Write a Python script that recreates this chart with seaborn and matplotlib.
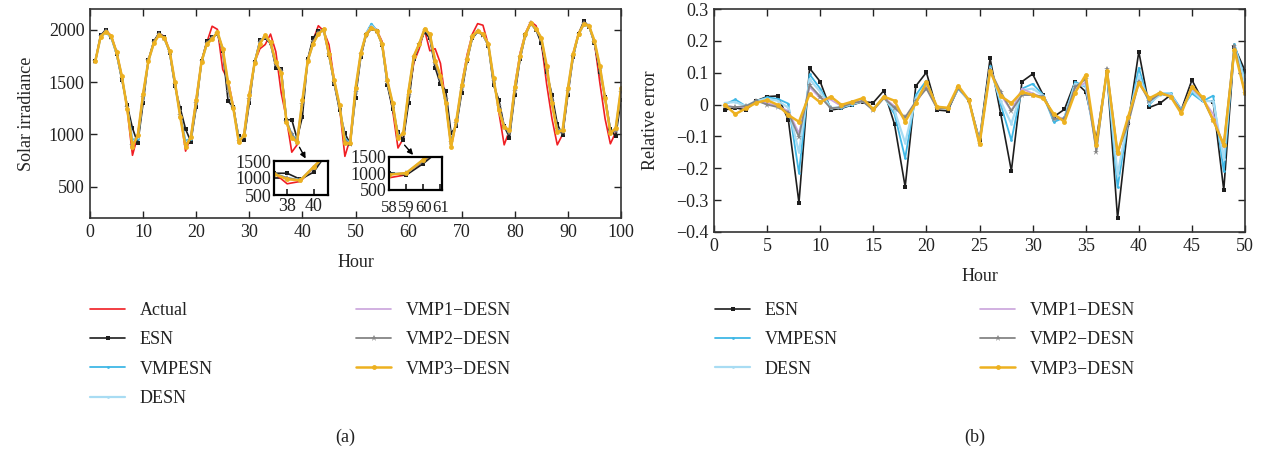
import pandas as pd
import seaborn as sns
import matplotlib.pyplot as plt
from matplotlib.ticker import FuncFormatter

# ---- data ----
hours = list(range(1, 101))
err_hours = list(range(1, 51))
models = ["Actual", "ESN", "VMPESN", "DESN", "VMP1\u2212DESN", "VMP2\u2212DESN", "VMP3\u2212DESN"]

actual = [1700, 1935, 1995, 1945, 1790, 1560, 1240, 800, 990, 1390,
          1700, 1880, 1960, 1940, 1800, 1500, 1190, 840, 980, 1340,
          1700, 1880, 2035, 2005, 1620, 1520, 1270, 930, 1000, 1390,
          1690, 1820, 1860, 1960, 1790, 1400, 1150, 830, 900, 1300,
          1690, 1900, 2040, 1990, 1860, 1520, 1260, 790, 960, 1420,
          1760, 1960, 2040, 2000, 1890, 1530, 1230, 870, 960, 1380,
          1690, 1820, 2000, 1800, 1820, 1680, 1300, 880, 1120, 1480,
          1760, 1960, 2060, 2045, 1860, 1540, 1210, 900, 1040, 1470,
          1780, 1970, 2080, 2040, 1880, 1480, 1150, 900, 1000, 1410,
          1780, 1970, 2060, 2040, 1880, 1500, 1150, 910, 1020, 1420]
esn = [1700, 1950, 2000, 1930, 1770, 1520, 1280, 1060, 915, 1300,
       1710, 1890, 1970, 1930, 1780, 1460, 1250, 1050, 930, 1260,
       1700, 1890, 1930, 1960, 1800, 1320, 1260, 980, 950, 1300,
       1690, 1900, 1920, 1870, 1640, 1630, 1140, 1140, 960, 1170,
       1720, 1920, 1990, 2000, 1760, 1480, 1230, 1010, 910, 1350,
       1740, 1950, 2010, 1990, 1860, 1470, 1240, 1020, 950, 1300,
       1720, 1860, 1980, 1920, 1640, 1480, 1420, 1010, 1080, 1400,
       1700, 1920, 1980, 1950, 1850, 1470, 1330, 1080, 970, 1380,
       1720, 1950, 2060, 2000, 1870, 1600, 1380, 1100, 990, 1380,
       1740, 1960, 2085, 2030, 1870, 1600, 1360, 1050, 980, 1330]
vmpesn = [1700, 1930, 1975, 1925, 1770, 1540, 1260, 950, 960, 1370,
          1700, 1875, 1955, 1915, 1790, 1480, 1180, 940, 960, 1310,
          1690, 1860, 1920, 1975, 1810, 1470, 1250, 960, 980, 1360,
          1680, 1890, 1940, 1870, 1680, 1600, 1130, 1000, 945, 1310,
          1700, 1870, 1970, 2000, 1760, 1500, 1270, 960, 920, 1420,
          1770, 1970, 2060, 1995, 1860, 1500, 1290, 990, 1000, 1410,
          1745, 1860, 2005, 1950, 1690, 1550, 1300, 930, 1120, 1460,
          1720, 1935, 1980, 1955, 1860, 1520, 1240, 1080, 1030, 1440,
          1750, 1955, 2060, 2005, 1915, 1640, 1290, 1050, 1030, 1430,
          1765, 1955, 2050, 2030, 1885, 1640, 1340, 1030, 1050, 1430]
desn = [1700, 1935, 1980, 1935, 1780, 1550, 1255, 920, 975, 1380,
        1702, 1872, 1953, 1918, 1795, 1490, 1172, 910, 968, 1318,
        1693, 1864, 1915, 1978, 1815, 1485, 1250, 945, 987, 1366,
        1684, 1880, 1945, 1875, 1685, 1595, 1125, 985, 940, 1318,
        1703, 1868, 1965, 2003, 1765, 1508, 1274, 940, 918, 1430,
        1775, 1965, 2040, 1992, 1863, 1508, 1293, 978, 1006, 1415,
        1749, 1863, 2007, 1955, 1698, 1556, 1298, 905, 1128, 1464,
        1722, 1939, 1985, 1957, 1863, 1527, 1235, 1075, 1035, 1445,
        1751, 1957, 2063, 2007, 1920, 1649, 1293, 1036, 1035, 1435,
        1767, 1957, 2053, 2034, 1890, 1649, 1342, 1021, 1055, 1435]
vmp1 = [1700, 1938, 1986, 1938, 1782, 1552, 1250, 895, 985, 1385,
        1704, 1872, 1954, 1920, 1798, 1494, 1168, 890, 972, 1322,
        1694, 1866, 1912, 1980, 1817, 1492, 1250, 935, 990, 1370,
        1686, 1872, 1948, 1878, 1688, 1592, 1122, 975, 935, 1322,
        1704, 1868, 1962, 2004, 1768, 1512, 1276, 928, 916, 1435,
        1778, 1962, 2030, 1991, 1865, 1512, 1295, 972, 1009, 1418,
        1751, 1865, 2008, 1958, 1702, 1560, 1297, 893, 1132, 1466,
        1723, 1941, 1988, 1959, 1865, 1531, 1232, 1072, 1037, 1448,
        1752, 1958, 2065, 2008, 1922, 1654, 1295, 1029, 1037, 1438,
        1768, 1958, 2055, 2036, 1893, 1654, 1343, 1016, 1058, 1438]
vmp2 = [1700, 1945, 1990, 1935, 1790, 1540, 1265, 900, 980, 1360,
        1712, 1880, 1960, 1925, 1790, 1480, 1190, 900, 965, 1300,
        1700, 1875, 1920, 1970, 1815, 1420, 1260, 935, 980, 1340,
        1690, 1880, 1930, 1875, 1670, 1610, 1130, 1000, 930, 1290,
        1710, 1880, 1975, 2003, 1765, 1500, 1260, 940, 912, 1410,
        1765, 1955, 2015, 1990, 1862, 1500, 1280, 980, 1000, 1380,
        1740, 1863, 2000, 1950, 1680, 1530, 1340, 930, 1110, 1440,
        1715, 1935, 1985, 1955, 1860, 1510, 1270, 1075, 1010, 1420,
        1740, 1955, 2065, 2005, 1910, 1630, 1320, 1050, 1020, 1420,
        1755, 1960, 2065, 2035, 1885, 1630, 1350, 1030, 1030, 1410]
vmp3 = [1700, 1936, 1984, 1940, 1785, 1557, 1247, 882, 993, 1389,
        1705, 1870, 1952, 1921, 1800, 1497, 1164, 880, 975, 1326,
        1696, 1867, 1910, 1981, 1819, 1497, 1250, 927, 993, 1373,
        1687, 1867, 1950, 1880, 1690, 1590, 1120, 965, 930, 1326,
        1705, 1867, 1960, 2006, 1770, 1516, 1278, 915, 915, 1440,
        1780, 1960, 2020, 1990, 1867, 1516, 1297, 965, 1012, 1420,
        1753, 1867, 2010, 1960, 1705, 1563, 1297, 880, 1135, 1468,
        1724, 1943, 1990, 1960, 1867, 1535, 1230, 1070, 1040, 1450,
        1753, 1960, 2067, 2010, 1924, 1658, 1297, 1022, 1040, 1440,
        1770, 1960, 2057, 2038, 1896, 1658, 1345, 1012, 1060, 1440]

esn_err = [-0.017, -0.010, -0.017, 0.012, 0.025, 0.027, -0.048, -0.308, 0.114, 0.072,
           -0.017, -0.012, -0.001, 0.009, 0.006, 0.044, -0.062, -0.258, 0.058, 0.101,
           -0.017, -0.020, 0.051, 0.014, -0.111, 0.145, -0.030, -0.208, 0.072, 0.096,
           0.030, -0.038, -0.015, 0.072, 0.040, -0.110, 0.103, -0.357, -0.059, 0.166,
           -0.009, 0.004, 0.030, -0.017, 0.077, 0.014, 0.009, -0.268, 0.182, 0.106]
vmpesn_err = [0.000, 0.016, -0.005, 0.010, 0.023, 0.018, 0.003, -0.215, 0.095, 0.050,
              -0.010, -0.010, 0.000, 0.012, -0.015, 0.025, -0.030, -0.168, 0.030, 0.075,
              -0.010, -0.012, 0.050, 0.012, -0.120, 0.120, 0.000, -0.112, 0.050, 0.065,
              0.030, -0.055, -0.040, 0.072, 0.055, -0.130, 0.100, -0.260, -0.050, 0.115,
              0.000, 0.035, 0.035, -0.015, 0.035, 0.010, 0.028, -0.210, 0.190, 0.080]
desn_err = [0.005, 0.008, -0.005, 0.012, 0.018, 0.012, -0.010, -0.150, 0.080, 0.040,
            -0.012, -0.008, 0.002, 0.010, -0.012, 0.022, -0.020, -0.120, 0.020, 0.060,
            -0.010, -0.012, 0.052, 0.012, -0.120, 0.115, 0.010, -0.060, 0.045, 0.050,
            0.028, -0.045, -0.045, 0.065, 0.060, -0.135, 0.105, -0.220, -0.045, 0.090,
            0.005, 0.030, 0.032, -0.020, 0.045, 0.012, 0.010, -0.170, 0.185, 0.070]
vmp1_err = [-0.003, -0.008, -0.008, 0.010, 0.005, -0.005, -0.020, -0.090, 0.055, 0.020,
            0.015, -0.005, 0.005, 0.012, -0.015, 0.022, -0.005, -0.050, 0.005, 0.055,
            -0.010, -0.010, 0.055, 0.012, -0.122, 0.112, 0.030, -0.020, 0.050, 0.035,
            0.022, -0.035, -0.045, 0.050, 0.070, -0.140, 0.108, -0.160, -0.040, 0.075,
            0.012, 0.035, 0.028, -0.020, 0.050, 0.020, -0.030, -0.135, 0.180, 0.035]
vmp2_err = [-0.005, -0.008, -0.005, 0.012, 0.000, -0.008, -0.025, -0.102, 0.062, 0.025,
            -0.012, -0.008, 0.005, 0.010, -0.018, 0.020, -0.010, -0.040, 0.010, 0.050,
            -0.012, -0.012, 0.052, 0.015, -0.125, 0.108, 0.040, -0.020, 0.030, 0.030,
            0.025, -0.045, -0.045, 0.055, 0.080, -0.148, 0.112, -0.150, -0.060, 0.070,
            0.010, 0.035, 0.025, -0.020, 0.055, 0.020, -0.050, -0.125, 0.185, 0.035]
vmp3_err = [0.000, -0.030, -0.012, 0.006, 0.014, -0.001, -0.033, -0.054, 0.033, 0.007,
            0.025, -0.001, 0.009, 0.020, -0.015, 0.025, 0.012, -0.054, 0.004, 0.070,
            -0.007, -0.010, 0.059, 0.014, -0.125, 0.106, 0.027, 0.004, 0.040, 0.030,
            0.020, -0.030, -0.054, 0.037, 0.093, -0.127, 0.106, -0.153, -0.038, 0.067,
            0.020, 0.037, 0.025, -0.028, 0.056, 0.023, -0.048, -0.127, 0.171, 0.035]

# long tables for seaborn
pred = pd.concat([pd.DataFrame({"hour": hours, "value": v, "model": m})
                  for m, v in zip(models, [actual, esn, vmpesn, desn, vmp1, vmp2, vmp3])])
err = pd.concat([pd.DataFrame({"hour": err_hours, "value": v, "model": m})
                 for m, v in zip(models[1:], [esn_err, vmpesn_err, desn_err, vmp1_err, vmp2_err, vmp3_err])])

# colour, marker, marker size, line width
styles = {
    "Actual": ("#f01e23", None, 0, 1.2),
    "ESN": ("#1e1e1e", "s", 3, 1.2),
    "VMPESN": ("#3fb8e6", "o", 2, 1.3),
    "DESN": ("#a8dcf3", "o", 2, 1.6),
    "VMP1\u2212DESN": ("#c9a3dc", None, 0, 1.2),
    "VMP2\u2212DESN": ("#858585", "*", 5, 1.3),
    "VMP3\u2212DESN": ("#edb120", "o", 3.5, 1.8),
}

sns.set_theme(style="ticks")
plt.rcParams["font.family"] = ["Liberation Serif", "DejaVu Serif"]
plt.rcParams["font.size"] = 13
plt.rcParams["axes.unicode_minus"] = True


def draw(ax, data):
    handles = []
    for m in data["model"].unique():
        c, mk, ms, lw = styles[m]
        sns.lineplot(data=data[data["model"] == m], x="hour", y="value", ax=ax,
                     color=c, marker=mk, markersize=ms, markeredgewidth=0,
                     linewidth=lw, estimator=None, label=m, legend=False)
        handles.append(ax.lines[-1])
    return handles


def style_axes(ax, size=13):
    ax.tick_params(direction="in", top=True, right=True, length=5, width=1,
                   labelsize=size, colors="#222222", pad=4)
    for s in ax.spines.values():
        s.set_linewidth(1.2)
        s.set_color("#333333")


W, H = 1265, 454
fig = plt.figure(figsize=(W / 100, H / 100), dpi=100)

# ---- (a) ----
ax1 = fig.add_axes([90 / W, 1 - 218 / H, 531 / W, 209 / H])
h1 = draw(ax1, pred)
ax1.set_xlim(0, 100)
ax1.set_ylim(200, 2200)
ax1.set_xticks(range(0, 101, 10))
ax1.set_yticks([500, 1000, 1500, 2000])
ax1.set_xlabel("Hour", fontsize=13, labelpad=10)
ax1.set_ylabel("Solar irradiance", fontsize=13, labelpad=10)
style_axes(ax1)

# insets
for (x0, y0, w, h), (lo, hi), ticks, tail, head_x, xsize, xpad in [
    ((274, 195, 54, 34), (37, 41.1), [38, 40], (39.2, 900), 0.61, 13, 2),
    ((389, 190, 53, 33), (58, 61.1), [58, 59, 60, 61], (58.9, 917), 0.49, 12, 7),
]:
    ins = fig.add_axes([x0 / W, 1 - y0 / H, w / W, h / H])
    draw(ins, pred[(pred["hour"] >= lo - 1) & (pred["hour"] <= hi + 1)])
    ins.set_xlim(lo, hi)
    ins.set_ylim(500, 1500)
    ins.set_xticks(ticks)
    ins.set_yticks([500, 1000, 1500])
    ins.set_xlabel("")
    ins.set_ylabel("")
    ins.tick_params(direction="in", length=4, labelsize=13, pad=2, colors="#222222")
    ins.tick_params(axis="x", labelsize=xsize, pad=xpad)
    for s in ins.spines.values():
        s.set_linewidth(1.6)
        s.set_color("black")
    ax1.annotate("", xy=(head_x, 1.0), xycoords=ins.transAxes,
                 xytext=tail, textcoords="data",
                 arrowprops=dict(arrowstyle="-|>", color="black", lw=1, mutation_scale=8))

# ---- (b) ----
ax2 = fig.add_axes([714 / W, 1 - 232 / H, 531 / W, 223 / H])
h2 = draw(ax2, err)
ax2.set_xlim(0, 50)
ax2.set_ylim(-0.4, 0.3)
ax2.set_xticks(range(0, 51, 5))
ax2.set_yticks([-0.4, -0.3, -0.2, -0.1, 0, 0.1, 0.2, 0.3])
ax2.yaxis.set_major_formatter(FuncFormatter(
    lambda v, p: "0" if abs(v) < 1e-9 else f"{v:.1f}".replace("-", "\u2212")))
ax2.set_xlabel("Hour", fontsize=13, labelpad=10)
ax2.set_ylabel("Relative error", fontsize=13, labelpad=12)
style_axes(ax2)

# ---- legends ----
leg_kw = dict(frameon=False, loc="upper left", fontsize=13, borderpad=0,
              borderaxespad=0, handlelength=1.95, handletextpad=0.8, labelspacing=0.68)
for hs, xs in [(h1, (90, 356)), (h2, (715, 980))]:
    n = 4 if len(hs) == 7 else 3
    for part, x in [(hs[:n], xs[0]), (hs[n:], xs[1])]:
        lg = fig.legend(handles=part, labels=[l.get_label() for l in part],
                        bbox_to_anchor=(x / W, 1 - 302 / H), **leg_kw)
        for t in lg.get_texts():
            t.set_color("#222222")

fig.text(345 / W, 1 - 437 / H, "(a)", ha="center", va="center", fontsize=13, color="#222222")
fig.text(975 / W, 1 - 437 / H, "(b)", ha="center", va="center", fontsize=13, color="#222222")

fig.savefig("out.png", dpi=100)
